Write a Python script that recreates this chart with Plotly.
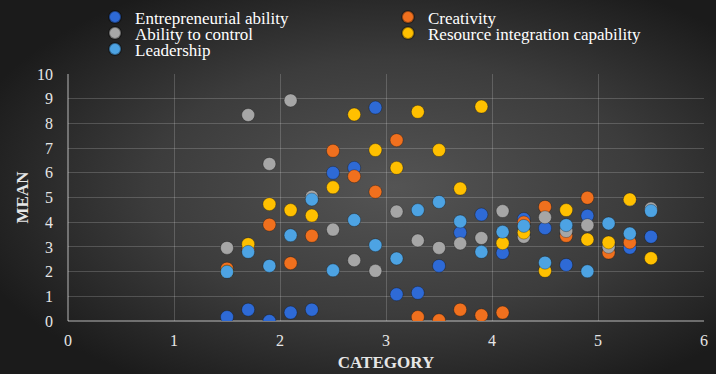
import base64
import plotly.graph_objects as go

# ---- data ----
categories = [1.5, 1.7, 1.9, 2.1, 2.3, 2.5, 2.7, 2.9, 3.1, 3.3, 3.5,
              3.7, 3.9, 4.1, 4.3, 4.5, 4.7, 4.9, 5.1, 5.3, 5.5]

entrepreneurial = [0.16, 0.46, 0.00, 0.34, 0.46, 6.00, 6.20, 8.64, 1.08, 1.14, 2.23,
                   3.58, 4.31, 2.76, 4.13, 3.76, 2.27, 4.26, 3.00, 2.97, 3.41]
creativity = [2.12, 2.90, 3.90, 2.34, 3.45, 6.89, 5.86, 5.23, 7.32, 0.16, 0.03,
              0.46, 0.23, 0.34, 3.99, 4.62, 3.45, 4.99, 2.77, 3.18, 4.50]
control = [2.96, 8.34, 6.36, 8.93, 5.03, 3.70, 2.46, 2.03, 4.43, 3.26, 2.96,
           3.14, 3.36, 4.45, 3.41, 4.20, 3.64, 3.88, 3.00, 4.90, 4.55]
resource = [2.00, 3.11, 4.73, 4.49, 4.27, 5.41, 8.36, 6.92, 6.20, 8.47, 6.92,
            5.36, 8.68, 3.15, 3.58, 2.03, 4.49, 3.30, 3.18, 4.92, 2.54]
leadership = [1.99, 2.80, 2.23, 3.47, 4.92, 2.05, 4.09, 3.07, 2.53, 4.49, 4.82,
              4.03, 2.80, 3.61, 3.85, 2.36, 3.88, 2.01, 3.95, 3.54, 4.46]

series_names = ["Entrepreneurial ability", "Creativity", "Ability to control",
                "Resource integration capability", "Leadership"]
series_values = [entrepreneurial, creativity, control, resource, leadership]
series_colors = ["#2E6AD6", "#F0701E", "#A6A6A6", "#FFC000", "#4DA3E3"]
series_legend_row = ["legend", "legend", "legend2", "legend2", "legend3"]

x_ticks = [0, 1, 2, 3, 4, 5, 6]
y_ticks = [0, 1, 2, 3, 4, 5, 6, 7, 8, 9, 10]

W, H = 716, 374
ML, MR, MT, MB = 68, 12, 74, 53
FONT = "Liberation Serif, Times New Roman, serif"
pw, ph = W - ML - MR, H - MT - MB

fig = go.Figure()
for name, vals, col, lg in zip(series_names, series_values, series_colors, series_legend_row):
    fig.add_trace(go.Scatter(
        x=categories, y=vals, mode="markers", name=name, legend=lg,
        marker=dict(size=13, color=col,
                    line=dict(width=0.8, color="rgba(0,0,0,0.35)")),
    ))

# radial-gradient background (decorative)
svg = f'''<svg xmlns="http://www.w3.org/2000/svg" width="{W}" height="{H}" viewBox="0 0 {W} {H}" preserveAspectRatio="none">
<defs><radialGradient id="g" cx="0.55" cy="0.5" r="0.62" gradientUnits="objectBoundingBox">
<stop offset="0" stop-color="#545454"/><stop offset="0.55" stop-color="#3c3c3c"/><stop offset="1" stop-color="#1b1b1b"/>
</radialGradient></defs><rect width="{W}" height="{H}" fill="url(#g)"/></svg>'''
src = "data:image/svg+xml;base64," + base64.b64encode(svg.encode()).decode()
fig.add_layout_image(dict(source=src, xref="paper", yref="paper",
                          x=-ML / pw, y=1 + MT / ph, sizex=W / pw, sizey=H / ph,
                          xanchor="left", yanchor="top", sizing="stretch",
                          layer="below"))

axis_common = dict(showgrid=True, gridcolor="rgba(255,255,255,0.18)", gridwidth=1,
                   zeroline=False, showline=False, ticks="", automargin=False,
                   tickfont=dict(family=FONT, size=16, color="#e6e6e6"))


def legend_row(ycenter_px):
    return dict(orientation="h", xref="paper", yref="paper",
                x=(95 - ML) / pw, y=(H - MB - ycenter_px) / ph,
                xanchor="left", yanchor="middle",
                entrywidth=248, entrywidthmode="pixels",
                itemsizing="constant", itemwidth=30,
                bgcolor="rgba(0,0,0,0)", borderwidth=0,
                font=dict(family=FONT, size=17, color="#ffffff"))


fig.update_layout(
    width=W, height=H,
    margin=dict(l=ML, r=MR, t=MT, b=MB, autoexpand=False),
    paper_bgcolor="#2d2d2d", plot_bgcolor="rgba(0,0,0,0)",
    font=dict(family=FONT, color="#ffffff"),
    showlegend=True,
    legend=legend_row(17.5),
    legend2=legend_row(33.5),
    legend3=legend_row(49.5),
    xaxis=dict(range=[0, 6], tickvals=x_ticks, ticklabelstandoff=8,
               title=dict(text="<b>CATEGORY</b>", standoff=8,
                          font=dict(family=FONT, size=17, color="#e6e6e6")),
               **axis_common),
    yaxis=dict(range=[0, 10], tickvals=y_ticks, ticklabelstandoff=14,
               title=dict(text="<b>MEAN</b>", standoff=4,
                          font=dict(family=FONT, size=17, color="#e6e6e6")),
               **axis_common),
)

# axis base lines (left and bottom) a bit lighter
fig.add_shape(type="line", xref="paper", yref="paper", x0=0, x1=1, y0=0, y1=0,
              line=dict(color="rgba(255,255,255,0.45)", width=1.5), layer="below")
fig.add_shape(type="line", xref="paper", yref="paper", x0=0, x1=0, y0=0, y1=1,
              line=dict(color="rgba(255,255,255,0.45)", width=1.5), layer="below")

fig.write_html("out.html")
